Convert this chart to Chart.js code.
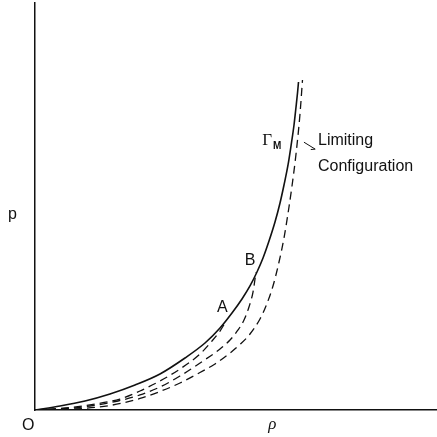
<!DOCTYPE html>
<html>
<head>
<meta charset="utf-8">
<script src="https://cdn.jsdelivr.net/npm/chart.js@4.4.1/dist/chart.umd.min.js"></script>
<style>
  html, body { margin: 0; padding: 0; background: #fff; }
  #wrap { width: 437px; height: 437px; }
</style>
</head>
<body>
<div id="wrap"><canvas id="chart"></canvas></div>
<script>
// curves, rho (x) against p (y), arbitrary units 0..100
const gammaRho = [0, 6.22, 12.44, 18.66, 24.88, 31.09, 37.31, 42.29, 46.02, 49.0, 51.49, 53.48, 55.22, 56.72, 58.21, 59.7, 60.95, 61.94, 62.94, 63.68, 64.43, 64.93, 65.3, 65.55];
const gammaP = [0, 0.98, 2.21, 3.93, 6.14, 8.85, 12.78, 16.46, 20.15, 23.83, 27.27, 30.47, 33.91, 37.35, 41.52, 46.19, 50.86, 55.28, 60.2, 64.86, 70.02, 74.45, 77.89, 80.59];

const branchARho = [0, 7.46, 14.93, 21.14, 26.12, 31.09, 36.07, 41.04, 44.03, 46.02, 47.26];
const branchAP = [0, 0.49, 1.47, 2.7, 4.67, 7.13, 10.07, 13.76, 16.95, 19.41, 21.38];

const branchBRho = [0, 6.22, 13.68, 20.65, 26.12, 31.09, 36.07, 41.79, 46.02, 48.51, 50.5, 51.99, 53.23, 54.23, 54.98];
const branchBP = [0, 0.25, 0.98, 2.21, 3.69, 5.65, 8.35, 12.04, 14.99, 17.2, 19.66, 22.11, 25.31, 28.99, 33.91];

const limitRho = [0, 9.95, 18.66, 26.12, 31.09, 36.07, 41.04, 44.78, 48.51, 50.99, 53.48, 55.97, 57.46, 59.2, 60.7, 61.94, 63.18, 63.93, 64.93, 65.92, 66.54];
const limitP = [0, 0.25, 1.11, 2.83, 4.55, 6.63, 9.21, 11.3, 14.0, 16.09, 18.67, 22.36, 25.55, 30.47, 36.36, 42.26, 49.88, 55.04, 62.9, 72.73, 81.08];

function toPoints(xs, ys) {
  return xs.map((v, i) => ({ x: v, y: ys[i] }));
}

function curve(xs, ys, dashed) {
  return {
    data: toPoints(xs, ys),
    borderColor: '#111',
    borderWidth: dashed ? 1.3 : 1.6,
    borderDash: dashed ? [8, 5] : [],
    pointRadius: 0,
    cubicInterpolationMode: 'monotone',
    fill: false,
  };
}

const labels = {
  id: 'labels',
  afterDatasetsDraw(chart) {
    const { ctx, chartArea } = chart;
    const x = chart.scales.x;
    const y = chart.scales.y;
    const px = (v) => x.getPixelForValue(v);
    const py = (v) => y.getPixelForValue(v);

    ctx.save();
    ctx.fillStyle = '#111';
    ctx.strokeStyle = '#111';
    ctx.textBaseline = 'alphabetic';
    ctx.textAlign = 'left';

    ctx.font = '16px "Liberation Sans"';
    ctx.fillText('A', px(45.3), py(24.1));
    ctx.fillText('B', px(52.2), py(35.6));
    ctx.fillText('Limiting', px(70.4), py(65.1));
    ctx.fillText('Configuration', px(70.4), py(58.7));
    ctx.fillText('p', chartArea.left - 27, py(46.9));
    ctx.fillText('O', chartArea.left - 13, chartArea.bottom + 20);

    ctx.font = '17px "Liberation Serif"';
    ctx.fillText('\u0393', px(56.5), py(65.1));
    ctx.font = 'bold 10px "Liberation Sans"';
    ctx.fillText('M', px(59.2), py(64.2));

    ctx.font = 'italic 17px "Liberation Serif"';
    ctx.fillText('\u03c1', px(58), chartArea.bottom + 19);

    // small pointer from the label to the limiting curve
    ctx.lineWidth = 1;
    ctx.beginPath();
    ctx.moveTo(px(66.9), py(65.8));
    ctx.lineTo(px(69.7), py(64.1));
    ctx.moveTo(px(69.7), py(64.1));
    ctx.lineTo(px(68.6), py(64.0));
    ctx.stroke();
    ctx.restore();
  },
};

new Chart(document.getElementById('chart'), {
  type: 'line',
  data: {
    datasets: [
      curve(gammaRho, gammaP, false),
      curve(branchARho, branchAP, true),
      curve(branchBRho, branchBP, true),
      curve(limitRho, limitP, true),
    ],
  },
  options: {
    responsive: true,
    maintainAspectRatio: false,
    animation: false,
    layout: { padding: { left: 35, right: 0, top: 3, bottom: 27 } },
    plugins: {
      legend: { display: false },
      tooltip: { enabled: false },
    },
    scales: {
      x: {
        type: 'linear',
        min: 0,
        max: 100,
        grid: { display: false, drawTicks: false },
        border: { display: true, color: '#111', width: 1.5 },
        ticks: { display: false },
      },
      y: {
        type: 'linear',
        min: 0,
        max: 100,
        grid: { display: false, drawTicks: false },
        border: { display: true, color: '#111', width: 1.5 },
        ticks: { display: false },
      },
    },
  },
  plugins: [labels],
});
</script>
</body>
</html>
